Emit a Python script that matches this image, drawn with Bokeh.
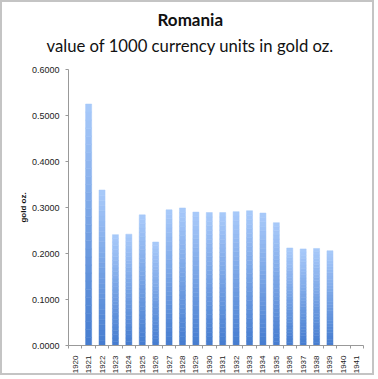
import numpy as np
from bokeh.plotting import figure
from bokeh.models import FixedTicker, NumeralTickFormatter, Title, Range1d, ColumnDataSource
from bokeh.embed import file_html
from bokeh.resources import INLINE

years = list(range(1920, 1942))
year_labels = [str(y) for y in years]
values = [None, 0.525, 0.338, 0.241, 0.242, 0.284, 0.225, 0.295, 0.299, 0.290,
          0.289, 0.289, 0.291, 0.293, 0.288, 0.267, 0.212, 0.210, 0.211, 0.206,
          None, None]
y_ticks = [0.0, 0.1, 0.2, 0.3, 0.4, 0.5, 0.6]

p = figure(width=374, height=375, x_range=Range1d(1919.5, 1941.5), y_range=Range1d(0, 0.6),
           output_backend="svg", toolbar_location=None,
           min_border_left=66, min_border_right=13, min_border_top=67, min_border_bottom=32)
p.styles = {"border": "2px solid #c4c4c4"}
p.xgrid.visible = False
p.ygrid.visible = False
p.outline_line_color = None
p.background_fill_color = "white"
p.border_fill_color = "white"

# gradient bars: slices per bar
N = 30
dark = np.array([0x45, 0x7c, 0xcf])
light = np.array([0xa9, 0xca, 0xfa])
xs, bots, tops, cols = [], [], [], []
for yr, v in zip(years, values):
    if v is None:
        continue
    for i in range(N):
        f = (i + 0.5) / N
        c = dark + (light - dark) * f
        xs.append(yr)
        bots.append(v * i / N)
        tops.append(v * (i + 1) / N)
        cols.append("#%02x%02x%02x" % tuple(int(round(t)) for t in c))
src = ColumnDataSource(dict(x=xs, bottom=bots, top=tops, color=cols))
p.vbar(x="x", bottom="bottom", top="top", width=0.45, fill_color="color", line_color="color",
       line_width=0.5, source=src)

# axes
p.xaxis.ticker = FixedTicker(ticks=years, minor_ticks=[y + 0.5 for y in [1919] + years])
p.xaxis.major_label_overrides = {y: s for y, s in zip(years, year_labels)}
p.xaxis.major_label_orientation = np.pi / 2
p.xaxis.major_tick_line_color = None
p.xaxis.minor_tick_out = 3
p.xaxis.minor_tick_in = 0
p.xaxis.minor_tick_line_color = "#999999"
p.xaxis.axis_line_color = "#999999"
p.xaxis.major_label_text_font = "Liberation Sans"
p.xaxis.major_label_text_font_size = "8px"
p.xaxis.major_label_text_color = "#222222"
p.xaxis.major_label_standoff = 4

p.yaxis.ticker = FixedTicker(ticks=y_ticks, minor_ticks=[])
p.yaxis.formatter = NumeralTickFormatter(format="0.0000")
p.yaxis.major_tick_out = 3
p.yaxis.major_tick_in = 0
p.yaxis.major_tick_line_color = "#999999"
p.yaxis.minor_tick_line_color = None
p.yaxis.axis_line_color = "#999999"
p.yaxis.major_label_text_font = "Liberation Sans"
p.yaxis.major_label_text_font_size = "9px"
p.yaxis.major_label_text_color = "#222222"
p.yaxis.major_label_standoff = 6
p.yaxis.axis_label = "gold oz."
p.yaxis.axis_label_text_font = "Liberation Sans"
p.yaxis.axis_label_text_font_size = "8px"
p.yaxis.axis_label_text_font_style = "bold"
p.yaxis.axis_label_text_color = "#111111"
p.yaxis.axis_label_standoff = 1

p.add_layout(Title(text="value of 1000 currency units in gold oz.", align="left", offset=-22,
                   text_font="Lato", text_font_size="16.7px", text_font_style="normal",
                   text_color="#111111", standoff=28), "above")
p.add_layout(Title(text="Romania", align="left", offset=89, text_font="Lato",
                   text_font_size="17px", text_font_style="bold", text_color="#111111",
                   standoff=-21), "above")

open("out.html", "w").write(file_html(p, INLINE))
